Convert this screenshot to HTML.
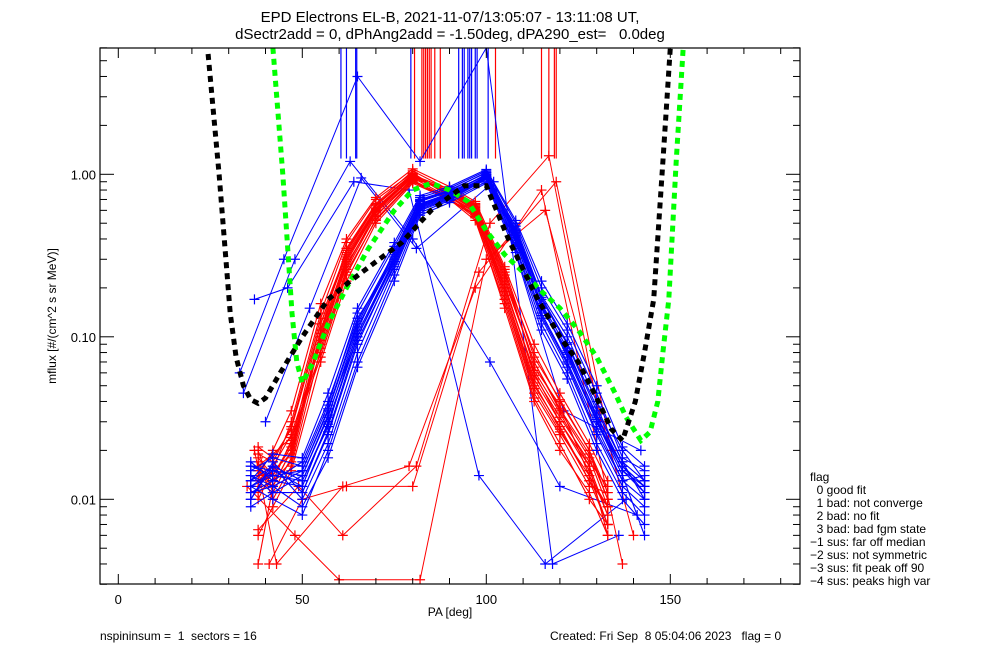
<!DOCTYPE html>
<html><head><meta charset="utf-8"><style>
html,body{margin:0;padding:0;background:#fff;}
svg{display:block;font-family:"Liberation Sans","DejaVu Sans",sans-serif;}
text{white-space:pre;}
</style></head><body>
<svg id="chart" width="1000" height="650" viewBox="0 0 1000 650" xmlns="http://www.w3.org/2000/svg">
<rect x="0" y="0" width="1000" height="650" fill="#fff"/>
<defs><clipPath id="pc"><rect x="100" y="48" width="700" height="536"/></clipPath></defs>
<text x="450" y="22" font-size="15" text-anchor="middle">EPD Electrons EL-B, 2021-11-07/13:05:07 - 13:11:08 UT,</text>
<text x="450" y="39" font-size="15" text-anchor="middle">dSectr2add = 0, dPhAng2add = -1.50deg, dPA290_est=   0.0deg</text>
<g id="data" clip-path="url(#pc)"></g>
<g id="axes"></g>
<text transform="translate(56,316) rotate(-90)" font-size="12" text-anchor="middle">mflux [#/(cm^2 s sr MeV)]</text>
<text x="450" y="616" font-size="12" text-anchor="middle">PA [deg]</text>
<text x="100" y="640" font-size="12">nspininsum =  1  sectors = 16</text>
<text x="550" y="640" font-size="12">Created: Fri Sep  8 05:04:06 2023   flag = 0</text>
<g font-size="12">
<text x="810" y="481">flag</text>
<text x="810" y="494">  0 good fit</text>
<text x="810" y="507">  1 bad: not converge</text>
<text x="810" y="520">  2 bad: no fit</text>
<text x="810" y="533">  3 bad: bad fgm state</text>
<text x="810" y="546">−1 sus: far off median</text>
<text x="810" y="559">−2 sus: not symmetric</text>
<text x="810" y="572">−3 sus: fit peak off 90</text>
<text x="810" y="585">−4 sus: peaks high var</text>
</g>
</svg>
<script>
const xTicks=[0,50,100,150];
const yTicks=[0.01,0.1,1];
const yTickLabels=["0.01","0.10","1.00"];
const blackPA=[24.4,27.4,30.4,32,34,36,38,40,44,50,57,63,70,77,85,94,100,106,114,120,125,130,134,137,140.5,143,145.5,148,150];
const blackVal=[5.5,1.0,0.14,0.075,0.05,0.041,0.039,0.042,0.06,0.1,0.17,0.22,0.29,0.38,0.6,0.85,0.85,0.4,0.17,0.1,0.07,0.042,0.027,0.023,0.04,0.08,0.17,1.2,6];
const greenPA=[42,44.7,47.2,48.5,50,53,57,62,68,75,80,85,90,95,100,105,110,115,120,125,130,135,138,142,144.5,146.6,148,149.6,151.6,153.5];
const greenVal=[6,1.0,0.14,0.07,0.052,0.07,0.12,0.2,0.35,0.6,0.8,0.88,0.8,0.68,0.45,0.32,0.25,0.19,0.15,0.11,0.075,0.045,0.032,0.023,0.026,0.04,0.08,0.17,1.2,6];
const redPA=[38,42,47,55,62,70,80,90,97,105,113,120,128,133];
const redTraces=[
[0.015,0.012,0.02,0.1,0.3,0.6,1.0,0.75,0.6,0.2,0.06,0.03,0.015,0.008],
[0.018,0.014,0.022,0.12,0.32,0.62,0.98,0.78,0.62,0.22,0.07,0.035,0.018,0.009],
[0.013,0.016,0.025,0.09,0.28,0.55,0.95,0.72,0.58,0.18,0.05,0.028,0.013,0.007],
[0.02,0.011,0.018,0.11,0.35,0.66,1.05,0.8,0.64,0.24,0.08,0.04,0.02,0.01],
[0.012,0.015,0.03,0.14,0.38,0.7,1.02,0.74,0.55,0.17,0.045,0.025,0.012,0.011],
[0.016,0.019,0.024,0.08,0.25,0.52,0.9,0.7,0.57,0.19,0.055,0.03,0.016,0.006],
[0.011,0.013,0.017,0.1,0.27,0.58,0.93,0.82,0.66,0.25,0.065,0.038,0.014,0.009],
[0.019,0.017,0.028,0.13,0.33,0.64,1.0,0.76,0.6,0.21,0.058,0.032,0.017,0.012],
[0.006,0.009,0.015,0.07,0.22,0.5,0.88,0.7,0.52,0.16,0.042,0.022,0.01,0.007],
[0.004,0.012,0.02,0.11,0.3,0.6,0.97,0.79,0.63,0.23,0.07,0.036,0.019,0.01],
[0.014,0.02,0.035,0.16,0.4,0.72,1.08,0.84,0.68,0.27,0.09,0.045,0.022,0.013],
[0.017,0.01,0.016,0.085,0.26,0.56,0.92,0.71,0.54,0.15,0.04,0.02,0.011,0.006],
[0.013,0.014,0.021,0.095,0.29,0.59,0.96,0.77,0.61,0.2,0.062,0.034,0.016,0.008],
[0.021,0.018,0.027,0.12,0.34,0.65,1.01,0.73,0.59,0.19,0.052,0.027,0.013,0.009],
[0.01,0.015,0.019,0.105,0.31,0.61,0.99,0.81,0.65,0.26,0.075,0.041,0.02,0.011],
[0.015,0.013,0.023,0.075,0.24,0.53,0.91,0.69,0.56,0.17,0.048,0.026,0.014,0.007]
];
const bluePA=[36,42,50,57,65,75,82,90,100,108,115,122,130,137,143];
const blueTraces=[
[0.012,0.015,0.012,0.03,0.1,0.3,0.65,0.75,1.0,0.4,0.15,0.08,0.03,0.015,0.012],
[0.014,0.012,0.015,0.035,0.12,0.32,0.68,0.78,0.98,0.45,0.17,0.09,0.035,0.017,0.01],
[0.01,0.017,0.011,0.025,0.09,0.28,0.62,0.72,0.95,0.38,0.14,0.07,0.028,0.013,0.014],
[0.016,0.014,0.013,0.028,0.11,0.34,0.7,0.8,1.02,0.42,0.16,0.085,0.032,0.016,0.011],
[0.011,0.013,0.017,0.04,0.13,0.3,0.64,0.74,0.97,0.48,0.18,0.1,0.04,0.02,0.013],
[0.013,0.016,0.01,0.022,0.08,0.26,0.6,0.7,0.93,0.36,0.13,0.065,0.025,0.012,0.009],
[0.009,0.011,0.014,0.032,0.115,0.31,0.66,0.76,1.0,0.44,0.16,0.075,0.03,0.014,0.006],
[0.015,0.018,0.016,0.038,0.14,0.36,0.72,0.82,1.05,0.5,0.2,0.11,0.045,0.018,0.015],
[0.012,0.01,0.008,0.02,0.07,0.24,0.58,0.69,0.9,0.35,0.12,0.06,0.022,0.011,0.008],
[0.017,0.013,0.012,0.03,0.1,0.29,0.63,0.73,0.96,0.41,0.15,0.08,0.03,0.016,0.012],
[0.013,0.019,0.018,0.045,0.15,0.38,0.74,0.84,1.07,0.52,0.22,0.12,0.05,0.021,0.016],
[0.011,0.012,0.009,0.018,0.065,0.22,0.56,0.67,0.88,0.33,0.11,0.055,0.02,0.01,0.007],
[0.016,0.015,0.014,0.033,0.105,0.3,0.65,0.77,0.99,0.43,0.155,0.078,0.031,0.015,0.011],
[0.012,0.014,0.015,0.036,0.125,0.33,0.69,0.79,1.03,0.46,0.175,0.092,0.037,0.017,0.013],
[0.014,0.011,0.011,0.026,0.095,0.27,0.61,0.71,0.94,0.39,0.135,0.068,0.026,0.013,0.01],
[0.01,0.016,0.013,0.029,0.1,0.29,0.64,0.74,0.97,0.42,0.15,0.082,0.033,0.016,0.012]
];
const blueOutPA=[[33,45,65,82,100,118,136],[34,48,63,80,101,120,141],[37,46,64,79,98,116,138],[40,52,66,81,102,121,142]];
const blueOutVal=[[0.06,0.3,4,1.2,6,0.004,0.006],[0.045,0.3,1.2,0.4,0.07,0.012,0.008],[0.17,0.2,0.9,0.8,0.014,0.004,0.01],[0.03,0.15,0.95,0.35,0.9,0.035,0.02]];
const redOutPA=[[38,49,61,81,101,117,131],[41,50,62,80,98,119,134],[35,48,60,82,100,116,140],[37,43,61,79,97,115,137]];
const redOutVal=[[0.0065,0.012,0.006,0.016,0.5,1.3,0.03],[0.004,0.01,0.012,0.012,0.25,0.9,0.02],[0.012,0.006,0.0032,0.0032,0.3,0.6,0.006],[0.02,0.004,0.012,0.016,0.2,0.8,0.004]];
const vLinesBluePA=[60.5,62,64.5,64.8,79.5,92.5,93.5,94,95,95.5,96,97,97.5,100.5];
const vLinesRedPA=[80.5,82.5,83,83.5,84,84.5,85,86,87.5,102.5,115,117,118.5,119];
const vLineBottom=1.25;

const X0=118.3,XS=3.68;
const Y1=174.3,YD=162.5;
function xs(v){return X0+v*XS;}
function ys(v){return Y1-Math.log10(v)*YD;}
const NS="http://www.w3.org/2000/svg";
const dataG=document.getElementById('data');
const axesG=document.getElementById('axes');
function mk(tag,attrs,parent){const e=document.createElementNS(NS,tag);for(const k in attrs)e.setAttribute(k,attrs[k]);parent.appendChild(e);return e;}

function polyline(pa,vals,color,w,dash,name){
  const pts=pa.map((p,i)=>xs(p).toFixed(1)+','+ys(vals[i]).toFixed(1)).join(' ');
  const el=mk('polyline',{points:pts,fill:'none',stroke:color,'stroke-width':w},dataG);
  if(dash)el.setAttribute('stroke-dasharray',dash);
  
  
}
function pluses(pa,vals,color,name){
  let d='';
  pa.forEach((p,i)=>{const x=xs(p),y=ys(vals[i]);d+=`M${x-5},${y}h10M${x},${y-5}v10`;});
  const el=mk('path',{d:d,stroke:color,'stroke-width':1.2,fill:'none'},dataG);
  
  
}
vLinesBluePA.forEach(p=>{
  const el=mk('line',{x1:xs(p),x2:xs(p),y1:ys(6.5),y2:ys(vLineBottom),stroke:'#0000ff','stroke-width':1.2},dataG);
  
  
});
vLinesRedPA.forEach(p=>{
  const el=mk('line',{x1:xs(p),x2:xs(p),y1:ys(6.5),y2:ys(vLineBottom),stroke:'#ff0000','stroke-width':1.2},dataG);
  
  
});
blueOutPA.forEach((pa,i)=>{polyline(pa,blueOutVal[i],'#0000ff',1,null,'blue-outlier-trace');pluses(pa,blueOutVal[i],'#0000ff','blue-outlier-points');});
redOutPA.forEach((pa,i)=>{polyline(pa,redOutVal[i],'#ff0000',1,null,'red-outlier-trace');pluses(pa,redOutVal[i],'#ff0000','red-outlier-points');});
redTraces.forEach(t=>{polyline(redPA,t,'#ff0000',1.1,null,'red-trace');pluses(redPA,t,'#ff0000','red-trace-points');});
blueTraces.forEach(t=>{polyline(bluePA,t,'#0000ff',1.1,null,'blue-trace');pluses(bluePA,t,'#0000ff','blue-trace-points');});
polyline(greenPA,greenVal,'#00ff00',5,'6,5','green-dashed-fit');
polyline(blackPA,blackVal,'#000000',5,'6,5','black-dashed-fit');

const L=100,R=800,T=48,B=584;
mk('rect',{x:L,y:T,width:R-L,height:B-T,fill:'none',stroke:'#000','stroke-width':1.2},axesG);
for(let v=-10;v<=180;v+=10){
  if(v<-5)continue;
  const major=xTicks.includes(v);const len=major?10:6;const x=xs(v);
  mk('line',{x1:x,x2:x,y1:B,y2:B-len,stroke:'#000'},axesG);
  mk('line',{x1:x,x2:x,y1:T,y2:T+len,stroke:'#000'},axesG);
}
xTicks.forEach(v=>{
  const t=mk('text',{x:xs(v),y:B+20,'font-size':13,'text-anchor':'middle'},axesG);t.textContent=String(v);
  
  
});
for(let e=-3;e<=0;e++){for(let m=1;m<=9;m++){
  const v=m*Math.pow(10,e);if(v<0.003||v>6)continue;const y=ys(v);const len=(m===1)?14:7;
  mk('line',{x1:L,x2:L+len,y1:y,y2:y,stroke:'#000'},axesG);
  mk('line',{x1:R,x2:R-len,y1:y,y2:y,stroke:'#000'},axesG);
}}
yTicks.forEach((v,i)=>{
  const t=mk('text',{x:L-4,y:ys(v)+5,'font-size':13,'text-anchor':'end'},axesG);t.textContent=yTickLabels[i];
  
  
});
</script>
</body></html>
